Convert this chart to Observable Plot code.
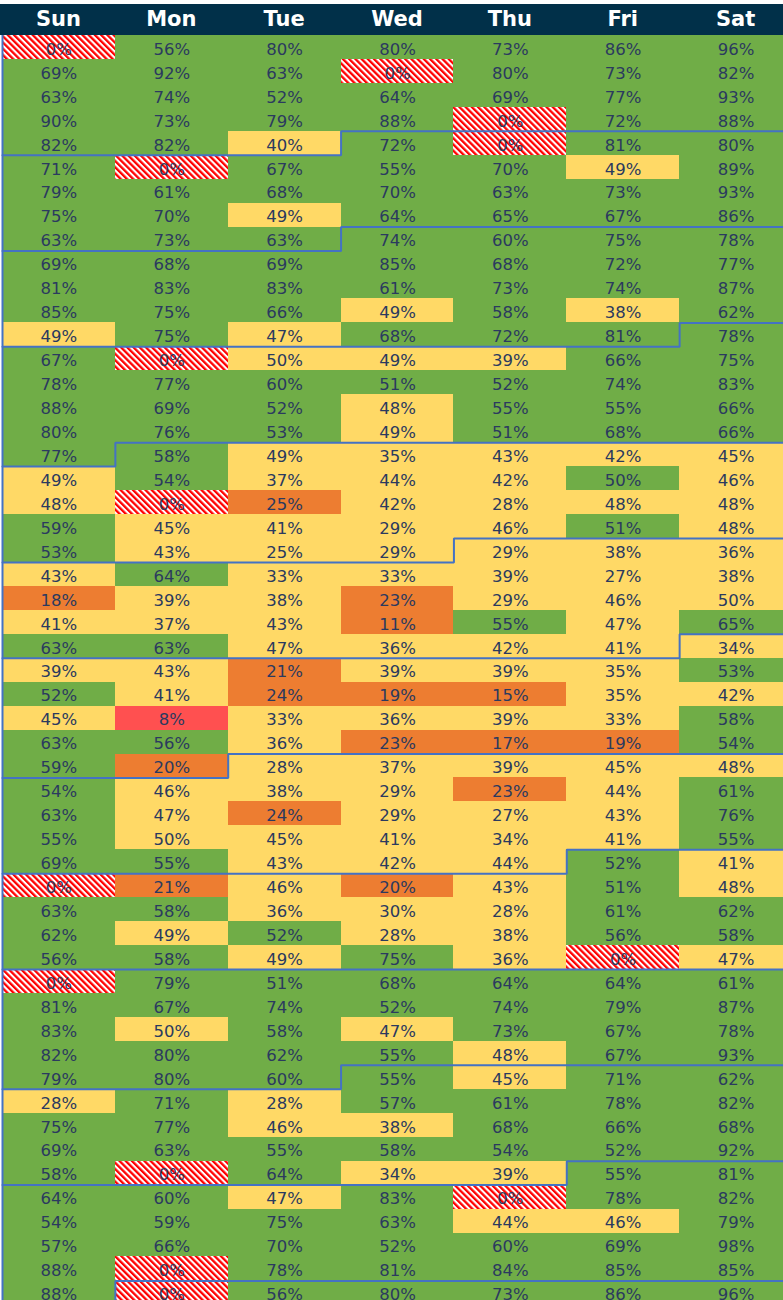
<!DOCTYPE html>
<html><head><meta charset="utf-8">
<script src="https://cdn.jsdelivr.net/npm/d3@7"></script>
<script src="https://cdn.jsdelivr.net/npm/@observablehq/plot@0.6"></script>
<style>
body{margin:0;background:#fff;overflow:hidden;}
#header{position:relative;margin-top:4px;height:31px;background:#013049;width:783px;overflow:hidden;}
#header span{position:absolute;top:3px;line-height:31px;transform:translateX(-50%);color:#fff;font:bold 21px "DejaVu Sans";}
#chart svg{display:block;}
</style></head><body>
<div id="header"></div><div id="chart"></div>
<script>
const days = ["Sun", "Mon", "Tue", "Wed", "Thu", "Fri", "Sat"];
const sun = [0,69,63,90,82,71,79,75,63,69,81,85,49,67,78,88,80,77,49,48,59,53,43,18,41,63,39,52,45,63,59,54,63,55,69,0,63,62,56,0,81,83,82,79,28,75,69,58,64,54,57,88,88];
const mon = [56,92,74,73,82,0,61,70,73,68,83,75,75,0,77,69,76,58,54,0,45,43,64,39,37,63,43,41,8,56,20,46,47,49.8,55,21,58,49,58,79,67,49.6,80,80,71,77,63,0,60,59,66,0,0];
const tue = [80,63,52,79,40,67,68,49,63,69,83,66,47,49.6,60,52,53,49,37,24.7,41,25.2,33,38,43,47,21,24,33,36,28,38,24,45,43,46,36,52,49,51,74,58,62,60,28,46,55,64,47,75,70,78,56];
const wed = [80,0,64,88,72,55,70,64,74,85,61,49,68,49,51,48,49,35,44,42,29,29,33,23,11,36,39,19,36,23,37,29,29,41,42,20,30,28,75,68,52,47,55,55,57,38,58,34,83,63,52,81,80];
const thu = [73,80,69,0,0,70,63,65,60,68,73,58,72,39,52,55,51,43,42,28,46,29,39,29,55,42,39,15,39,17,39,23,27,34,44,43,28,38,36,64,74,73,48,45,61,68,54,39,0,44,60,84,73];
const fri = [86,73,77,72,81,49,73,67,75,72,74,38,81,66,74,55,68,42,50.2,48,51,38,27,46,47,41,35,35,33,19,45,44,43,41,52,51,61,56,0,64,79,67,67,71,78,66,52,55,78,46,69,85,86];
const sat = [96,82,93,88,80,89,93,86,78,77,87,62,78,75,83,66,66,45,46,48,48,36,38,49.7,65,34,53,42,58,54,48,61,76,55,41,48,62,58,47,61,87,78,93,62,82,68,92,81,82,79,98,85,96];
const startDate = new Date(2017, 0, 1);

const columns = [sun, mon, tue, wed, thu, fri, sat];
const nWeeks = sun.length;
const cells = [];
for (let w = 0; w < nWeeks; w++) for (let d = 0; d < 7; d++)
  cells.push({week: w, day: d, value: columns[d][w], date: d3.timeDay.offset(startDate, w * 7 + d)});

const cat = v => v === 0 ? "hatch" : v < 10 ? "red" : v < 25 ? "orange" : v < 50 ? "yellow" : "green";
const fills = {hatch: "url(#hatch)", red: "#ff5050", orange: "#ed7d31", yellow: "#ffd966", green: "#70ad47"};

// month boundary outlines
const boundary = [];
cells.forEach(c => {
  if (c.date.getDate() === 1 && !(c.week === 0 && c.day === 0)) {
    const id = c.week * 7 + c.day, w = c.week, d = c.day;
    if (d === 0) { boundary.push({id, x: 0, y: w}, {id, x: 7, y: w}); }
    else boundary.push({id, x: 0, y: w + 1}, {id, x: d, y: w + 1}, {id, x: d, y: w}, {id, x: 7, y: w});
  }
});

const rowH = 23.95;
const plot = Plot.plot({
  width: 783,
  height: 1270,
  margin: 0,
  x: {type: "linear", domain: [0, 7], range: [2, 792], axis: null},
  y: {type: "linear", domain: [0, nWeeks], range: [0, nWeeks * rowH], axis: null},
  marks: [
    ...Object.keys(fills).map(k => Plot.rect(cells.filter(c => cat(c.value) === k), {
      x1: "day", x2: c => c.day + 1, y1: "week", y2: c => c.week + 1,
      fill: fills[k], inset: 0, shapeRendering: "crispEdges"
    })),
    Plot.text(cells, {
      x: c => c.day + 0.5, y: c => c.week + 0.5,
      text: c => Math.round(c.value) + "%",
      fill: "#2b3a5f", fontSize: 16.5, fontFamily: "DejaVu Sans", dy: 2
    }),
    Plot.ruleX([0, 7], {stroke: "#4472c4", strokeWidth: 2}),
    Plot.line(boundary, {x: "x", y: "y", z: "id", stroke: "#4472c4", strokeWidth: 2, strokeLinejoin: "miter"})
  ]
});

const defs = d3.select(plot).insert("defs", ":first-child");
const pat = defs.append("pattern").attr("id", "hatch").attr("patternUnits", "userSpaceOnUse")
  .attr("width", 4.4).attr("height", 4.4).attr("patternTransform", "rotate(-45)");
pat.append("rect").attr("width", 4.4).attr("height", 4.4).attr("fill", "#fff");
pat.append("rect").attr("width", 2.3).attr("height", 4.4).attr("fill", "#ff0000");

document.getElementById("chart").appendChild(plot);

const xs = plot.scale("x");
const header = d3.select("#header");
days.forEach((d, i) => {
  header.append("span").style("left", xs.apply(i + 0.5) + "px").text(d);
});
</script>
</body></html>
